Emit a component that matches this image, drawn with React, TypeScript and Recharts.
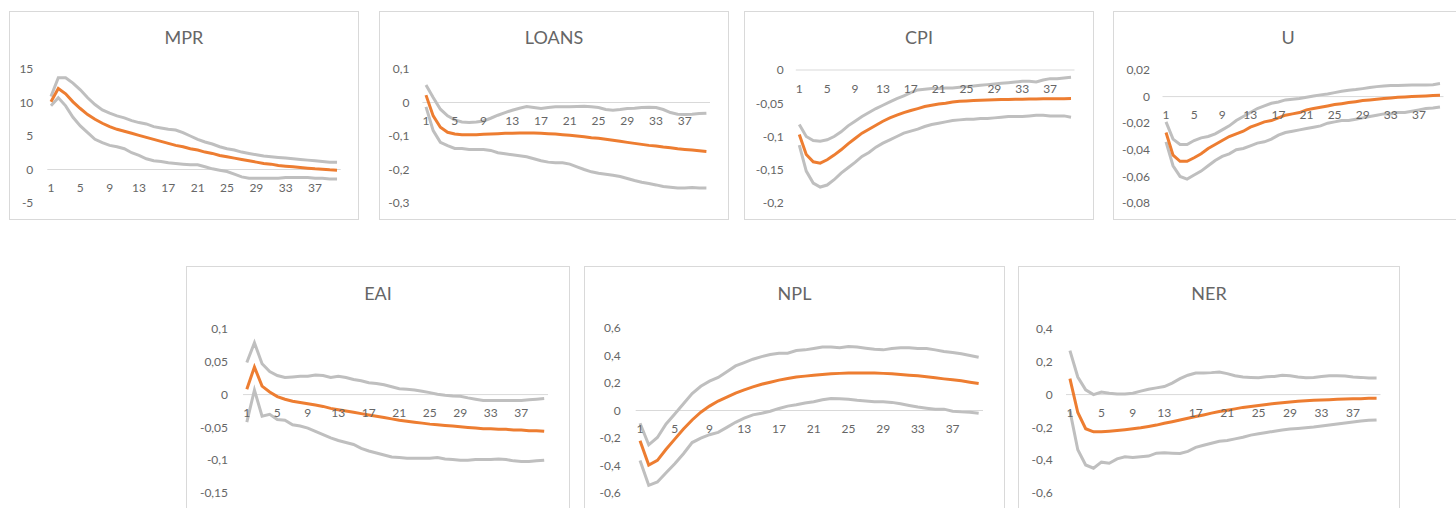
import React from 'react';
import { LineChart, Line, XAxis, YAxis, ReferenceLine, ReferenceDot } from 'recharts';

const PERIODS = [1, 2, 3, 4, 5, 6, 7, 8, 9, 10, 11, 12, 13, 14, 15, 16, 17, 18, 19, 20, 21, 22, 23, 24, 25, 26, 27, 28, 29, 30, 31, 32, 33, 34, 35, 36, 37, 38, 39, 40];
const X_TICKS = [1, 5, 9, 13, 17, 21, 25, 29, 33, 37];

const MPR_TICKS = [-5, 0, 5, 10, 15];
const MPR_UPPER = [10.9, 13.7, 13.7, 12.9, 11.9, 10.7, 9.7, 8.9, 8.4, 8.0, 7.7, 7.3, 7.0, 6.8, 6.4, 6.2, 6.0, 5.9, 5.5, 5.0, 4.5, 4.1, 3.8, 3.4, 3.1, 2.9, 2.6, 2.4, 2.2, 2.0, 1.9, 1.8, 1.7, 1.6, 1.5, 1.4, 1.3, 1.2, 1.1, 1.1];
const MPR_IRF = [10.1, 12.1, 11.3, 10.1, 9.1, 8.2, 7.5, 6.9, 6.4, 6.0, 5.7, 5.4, 5.1, 4.8, 4.5, 4.2, 3.9, 3.6, 3.4, 3.1, 2.9, 2.6, 2.4, 2.1, 1.9, 1.7, 1.5, 1.3, 1.1, 0.9, 0.8, 0.6, 0.5, 0.4, 0.3, 0.2, 0.1, 0.05, -0.05, -0.1];
const MPR_LOWER = [9.5, 10.7, 9.5, 7.8, 6.5, 5.5, 4.5, 4.0, 3.6, 3.4, 3.1, 2.5, 2.1, 1.6, 1.3, 1.2, 1.0, 0.9, 0.8, 0.7, 0.7, 0.4, 0.1, -0.1, -0.3, -0.7, -1.1, -1.3, -1.3, -1.3, -1.3, -1.3, -1.2, -1.2, -1.2, -1.2, -1.3, -1.3, -1.4, -1.4];

const LOANS_TICKS = [-0.3, -0.2, -0.1, 0, 0.1];
const LOANS_UPPER = [0.052, 0.015, -0.02, -0.04, -0.052, -0.058, -0.06, -0.058, -0.055, -0.047, -0.038, -0.03, -0.023, -0.017, -0.012, -0.015, -0.018, -0.015, -0.013, -0.013, -0.013, -0.012, -0.011, -0.013, -0.015, -0.021, -0.023, -0.021, -0.018, -0.017, -0.015, -0.014, -0.015, -0.021, -0.03, -0.035, -0.036, -0.035, -0.033, -0.032];
const LOANS_IRF = [0.022, -0.04, -0.074, -0.089, -0.094, -0.096, -0.096, -0.096, -0.095, -0.094, -0.093, -0.092, -0.092, -0.091, -0.091, -0.091, -0.092, -0.093, -0.094, -0.096, -0.098, -0.1, -0.102, -0.105, -0.107, -0.11, -0.113, -0.116, -0.119, -0.122, -0.125, -0.128, -0.13, -0.133, -0.135, -0.138, -0.14, -0.142, -0.144, -0.146];
const LOANS_LOWER = [-0.013, -0.084, -0.119, -0.129, -0.137, -0.137, -0.14, -0.14, -0.14, -0.143, -0.15, -0.153, -0.156, -0.159, -0.162, -0.168, -0.174, -0.178, -0.18, -0.18, -0.184, -0.192, -0.2, -0.207, -0.211, -0.214, -0.217, -0.221, -0.227, -0.233, -0.238, -0.242, -0.246, -0.251, -0.253, -0.255, -0.255, -0.254, -0.255, -0.255];

const CPI_TICKS = [-0.2, -0.15, -0.1, -0.05, 0];
const CPI_UPPER = [-0.082, -0.1, -0.106, -0.107, -0.105, -0.1, -0.093, -0.084, -0.077, -0.07, -0.064, -0.058, -0.053, -0.048, -0.043, -0.039, -0.034, -0.03, -0.029, -0.028, -0.028, -0.027, -0.027, -0.026, -0.025, -0.024, -0.023, -0.022, -0.021, -0.02, -0.019, -0.018, -0.017, -0.017, -0.018, -0.015, -0.013, -0.013, -0.012, -0.011];
const CPI_IRF = [-0.097, -0.127, -0.138, -0.14, -0.135, -0.128, -0.12, -0.111, -0.103, -0.095, -0.089, -0.083, -0.077, -0.072, -0.068, -0.064, -0.061, -0.058, -0.055, -0.053, -0.051, -0.05, -0.048, -0.047, -0.0465, -0.046, -0.0455, -0.045, -0.0447, -0.0445, -0.0443, -0.044, -0.0438, -0.0436, -0.0435, -0.0434, -0.0433, -0.0432, -0.0431, -0.043];
const CPI_LOWER = [-0.113, -0.152, -0.17, -0.176, -0.173, -0.165, -0.155, -0.147, -0.139, -0.13, -0.124, -0.116, -0.11, -0.105, -0.1, -0.095, -0.092, -0.089, -0.085, -0.082, -0.08, -0.078, -0.076, -0.075, -0.074, -0.074, -0.073, -0.073, -0.072, -0.071, -0.07, -0.07, -0.07, -0.069, -0.068, -0.068, -0.069, -0.069, -0.069, -0.071];

const U_TICKS = [-0.08, -0.06, -0.04, -0.02, 0, 0.02];
const U_UPPER = [-0.019, -0.032, -0.036, -0.036, -0.033, -0.031, -0.03, -0.028, -0.025, -0.022, -0.018, -0.015, -0.012, -0.009, -0.007, -0.005, -0.004, -0.0025, -0.002, -0.0015, -0.0005, 0.0005, 0.0013, 0.002, 0.003, 0.004, 0.0048, 0.0053, 0.006, 0.0068, 0.0075, 0.008, 0.0083, 0.0083, 0.0085, 0.0088, 0.0088, 0.0088, 0.009, 0.0098];
const U_IRF = [-0.027, -0.044, -0.0487, -0.0487, -0.046, -0.043, -0.039, -0.036, -0.033, -0.03, -0.028, -0.026, -0.023, -0.021, -0.019, -0.018, -0.016, -0.014, -0.013, -0.012, -0.01, -0.009, -0.008, -0.007, -0.006, -0.0053, -0.0045, -0.0038, -0.003, -0.0025, -0.002, -0.0015, -0.001, -0.0005, -0.0003, 0, 0.0003, 0.0005, 0.0008, 0.001];
const U_LOWER = [-0.034, -0.052, -0.06, -0.062, -0.059, -0.056, -0.052, -0.048, -0.045, -0.043, -0.04, -0.039, -0.037, -0.035, -0.034, -0.032, -0.029, -0.027, -0.026, -0.025, -0.024, -0.023, -0.022, -0.02, -0.019, -0.018, -0.018, -0.017, -0.016, -0.015, -0.014, -0.013, -0.013, -0.012, -0.012, -0.011, -0.01, -0.009, -0.0085, -0.0078];

const EAI_TICKS = [-0.15, -0.1, -0.05, 0, 0.05, 0.1];
const EAI_UPPER = [0.049, 0.079, 0.047, 0.035, 0.029, 0.026, 0.027, 0.028, 0.028, 0.03, 0.029, 0.026, 0.028, 0.026, 0.023, 0.021, 0.018, 0.017, 0.015, 0.012, 0.009, 0.008, 0.007, 0.005, 0.003, 0.0005, -0.001, -0.002, -0.0025, -0.005, -0.007, -0.009, -0.009, -0.009, -0.009, -0.009, -0.009, -0.008, -0.007, -0.006];
const EAI_IRF = [0.008, 0.042, 0.013, 0.004, -0.003, -0.007, -0.01, -0.012, -0.014, -0.016, -0.018, -0.021, -0.023, -0.025, -0.027, -0.029, -0.031, -0.033, -0.035, -0.037, -0.039, -0.0405, -0.042, -0.0435, -0.045, -0.046, -0.047, -0.048, -0.049, -0.05, -0.051, -0.052, -0.052, -0.053, -0.053, -0.054, -0.054, -0.055, -0.055, -0.056];
const EAI_LOWER = [-0.042, 0.007, -0.033, -0.03, -0.038, -0.039, -0.046, -0.048, -0.051, -0.056, -0.061, -0.066, -0.07, -0.073, -0.076, -0.082, -0.086, -0.089, -0.092, -0.095, -0.096, -0.097, -0.097, -0.097, -0.097, -0.096, -0.098, -0.099, -0.1, -0.1, -0.099, -0.099, -0.099, -0.098, -0.099, -0.101, -0.102, -0.102, -0.101, -0.1];

const NPL_TICKS = [-0.6, -0.4, -0.2, 0, 0.2, 0.4, 0.6];
const NPL_UPPER = [-0.093, -0.25, -0.196, -0.098, -0.025, 0.049, 0.123, 0.176, 0.213, 0.24, 0.282, 0.324, 0.348, 0.373, 0.392, 0.407, 0.417, 0.417, 0.436, 0.441, 0.451, 0.461, 0.461, 0.456, 0.466, 0.461, 0.453, 0.446, 0.441, 0.451, 0.456, 0.456, 0.451, 0.451, 0.441, 0.429, 0.422, 0.412, 0.4, 0.387];
const NPL_IRF = [-0.22, -0.397, -0.363, -0.282, -0.208, -0.135, -0.069, -0.012, 0.032, 0.069, 0.098, 0.127, 0.15, 0.172, 0.191, 0.206, 0.221, 0.233, 0.243, 0.25, 0.257, 0.262, 0.267, 0.27, 0.272, 0.272, 0.272, 0.272, 0.27, 0.267, 0.262, 0.257, 0.252, 0.245, 0.238, 0.23, 0.223, 0.216, 0.206, 0.196];
const NPL_LOWER = [-0.363, -0.544, -0.52, -0.453, -0.387, -0.314, -0.233, -0.201, -0.176, -0.159, -0.123, -0.086, -0.056, -0.032, -0.02, -0.005, 0.015, 0.032, 0.042, 0.054, 0.064, 0.078, 0.088, 0.086, 0.081, 0.074, 0.069, 0.064, 0.064, 0.059, 0.049, 0.037, 0.025, 0.017, 0.01, 0.01, -0.005, -0.01, -0.012, -0.02];

const NER_TICKS = [-0.6, -0.4, -0.2, 0, 0.2, 0.4];
const NER_UPPER = [0.268, 0.107, 0.029, 0, 0.016, 0.008, 0.004, 0.004, 0.008, 0.021, 0.033, 0.041, 0.049, 0.07, 0.097, 0.118, 0.132, 0.132, 0.134, 0.138, 0.128, 0.115, 0.107, 0.105, 0.103, 0.109, 0.111, 0.118, 0.115, 0.107, 0.103, 0.105, 0.111, 0.115, 0.115, 0.113, 0.107, 0.105, 0.101, 0.101];
const NER_IRF = [0.097, -0.109, -0.208, -0.227, -0.227, -0.223, -0.219, -0.214, -0.208, -0.202, -0.194, -0.186, -0.175, -0.165, -0.155, -0.144, -0.134, -0.124, -0.113, -0.103, -0.095, -0.087, -0.078, -0.072, -0.066, -0.06, -0.054, -0.049, -0.045, -0.041, -0.037, -0.035, -0.033, -0.031, -0.029, -0.027, -0.025, -0.025, -0.023, -0.023];
const NER_LOWER = [-0.099, -0.336, -0.429, -0.449, -0.412, -0.419, -0.392, -0.379, -0.384, -0.379, -0.375, -0.357, -0.355, -0.357, -0.359, -0.346, -0.322, -0.309, -0.297, -0.285, -0.28, -0.27, -0.26, -0.247, -0.239, -0.231, -0.223, -0.216, -0.21, -0.206, -0.202, -0.198, -0.192, -0.186, -0.179, -0.173, -0.167, -0.161, -0.157, -0.155];

const FONT = 'Lato, "Open Sans", "Liberation Sans", sans-serif';
const TEXT = '#666666';
const ORANGE = '#ED7D31';
const GRAY = '#BFBFBF';
const GRID = '#D9D9D9';

type PanelCfg = {
  title: string;
  ticks: number[];
  upper: number[];
  irf: number[];
  lower: number[];
  box: { left: number; top: number; width: number; height: number };
  margin: { top: number; right: number; bottom: number };
  yWidth: number;
  tickGap: number;
  titleTop: number;
};

const PANELS: PanelCfg[] = [
  { title: 'MPR', ticks: MPR_TICKS, upper: MPR_UPPER, irf: MPR_IRF, lower: MPR_LOWER,
    box: { left: 9, top: 11, width: 350, height: 209 }, margin: { top: 58, right: 18.3, bottom: 17 }, yWidth: 38.3, tickGap: 14, titleTop: 17 },
  { title: 'LOANS', ticks: LOANS_TICKS, upper: LOANS_UPPER, irf: LOANS_IRF, lower: LOANS_LOWER,
    box: { left: 379, top: 11, width: 350, height: 209 }, margin: { top: 58, right: 19, bottom: 17 }, yWidth: 43.4, tickGap: 13, titleTop: 17 },
  { title: 'CPI', ticks: CPI_TICKS, upper: CPI_UPPER, irf: CPI_IRF, lower: CPI_LOWER,
    box: { left: 744, top: 11, width: 350, height: 209 }, margin: { top: 59, right: 19.5, bottom: 17 }, yWidth: 51.8, tickGap: 12, titleTop: 17 },
  { title: 'U', ticks: U_TICKS, upper: U_UPPER, irf: U_IRF, lower: U_LOWER,
    box: { left: 1113, top: 11, width: 350, height: 209 }, margin: { top: 59, right: 19.5, bottom: 17 }, yWidth: 49.5, tickGap: 12.5, titleTop: 17 },
  { title: 'EAI', ticks: EAI_TICKS, upper: EAI_UPPER, irf: EAI_IRF, lower: EAI_LOWER,
    box: { left: 186, top: 266, width: 384, height: 245 }, margin: { top: 63, right: 22, bottom: 18 }, yWidth: 57, tickGap: 15, titleTop: 18 },
  { title: 'NPL', ticks: NPL_TICKS, upper: NPL_UPPER, irf: NPL_IRF, lower: NPL_LOWER,
    box: { left: 584, top: 266, width: 421, height: 245 }, margin: { top: 62, right: 22, bottom: 18 }, yWidth: 51.7, tickGap: 15, titleTop: 18 },
  { title: 'NER', ticks: NER_TICKS, upper: NER_UPPER, irf: NER_IRF, lower: NER_LOWER,
    box: { left: 1018, top: 266, width: 382, height: 245 }, margin: { top: 63, right: 19.5, bottom: 18 }, yWidth: 48, tickGap: 13.3, titleTop: 18 },
];

const fmt = (v: number) => String(v).replace('.', ',');

function Panel({ cfg }: { cfg: PanelCfg }) {
  const data = PERIODS.map((p, i) => ({ p, hi: cfg.upper[i], irf: cfg.irf[i], lo: cfg.lower[i] }));
  const { box } = cfg;
  const domain: [number, number] = [cfg.ticks[0], cfg.ticks[cfg.ticks.length - 1]];
  return (
    <div style={{ position: 'absolute', left: box.left, top: box.top, width: box.width, height: box.height }}>
      <div style={{ position: 'absolute', inset: 0, border: `1px solid ${GRID}`, boxSizing: 'border-box' }} />
      <div style={{ position: 'absolute', left: 0, top: cfg.titleTop, width: box.width, textAlign: 'center',
        fontFamily: FONT, fontSize: 18, lineHeight: '18px', color: TEXT }}>{cfg.title}</div>
      <div style={{ position: 'absolute', left: 0, top: 0 }}>
        <LineChart width={box.width} height={box.height} data={data}
          margin={{ top: cfg.margin.top, right: cfg.margin.right, bottom: cfg.margin.bottom, left: 0 }}>
          <XAxis dataKey="p" type="number" domain={[0.5, 40.5]} hide />
          <YAxis type="number" domain={domain} ticks={cfg.ticks} interval={0} width={cfg.yWidth}
            axisLine={false} tickLine={false} tickSize={0} tickMargin={cfg.tickGap}
            tickFormatter={fmt} tick={{ fill: TEXT, fontSize: 12, fontFamily: FONT }} />
          <ReferenceLine y={0} stroke={GRID} strokeWidth={1} />
          {X_TICKS.map((t) => (
            <ReferenceDot key={t} x={t} y={0} r={0} fill="none" stroke="none"
              label={{ value: String(t), position: 'bottom', offset: 14, fill: TEXT, fontSize: 12, fontFamily: FONT }} />
          ))}
          <Line type="linear" dataKey="hi" stroke={GRAY} strokeWidth={3} dot={false} activeDot={false} isAnimationActive={false} />
          <Line type="linear" dataKey="lo" stroke={GRAY} strokeWidth={3} dot={false} activeDot={false} isAnimationActive={false} />
          <Line type="linear" dataKey="irf" stroke={ORANGE} strokeWidth={3} dot={false} activeDot={false} isAnimationActive={false} />
        </LineChart>
      </div>
    </div>
  );
}

export default function App() {
  return (
    <div style={{ position: 'fixed', left: 0, top: 0, width: 1456, height: 508, overflow: 'hidden', background: '#fff' }}>
      {PANELS.map((cfg) => (
        <Panel key={cfg.title} cfg={cfg} />
      ))}
    </div>
  );
}
